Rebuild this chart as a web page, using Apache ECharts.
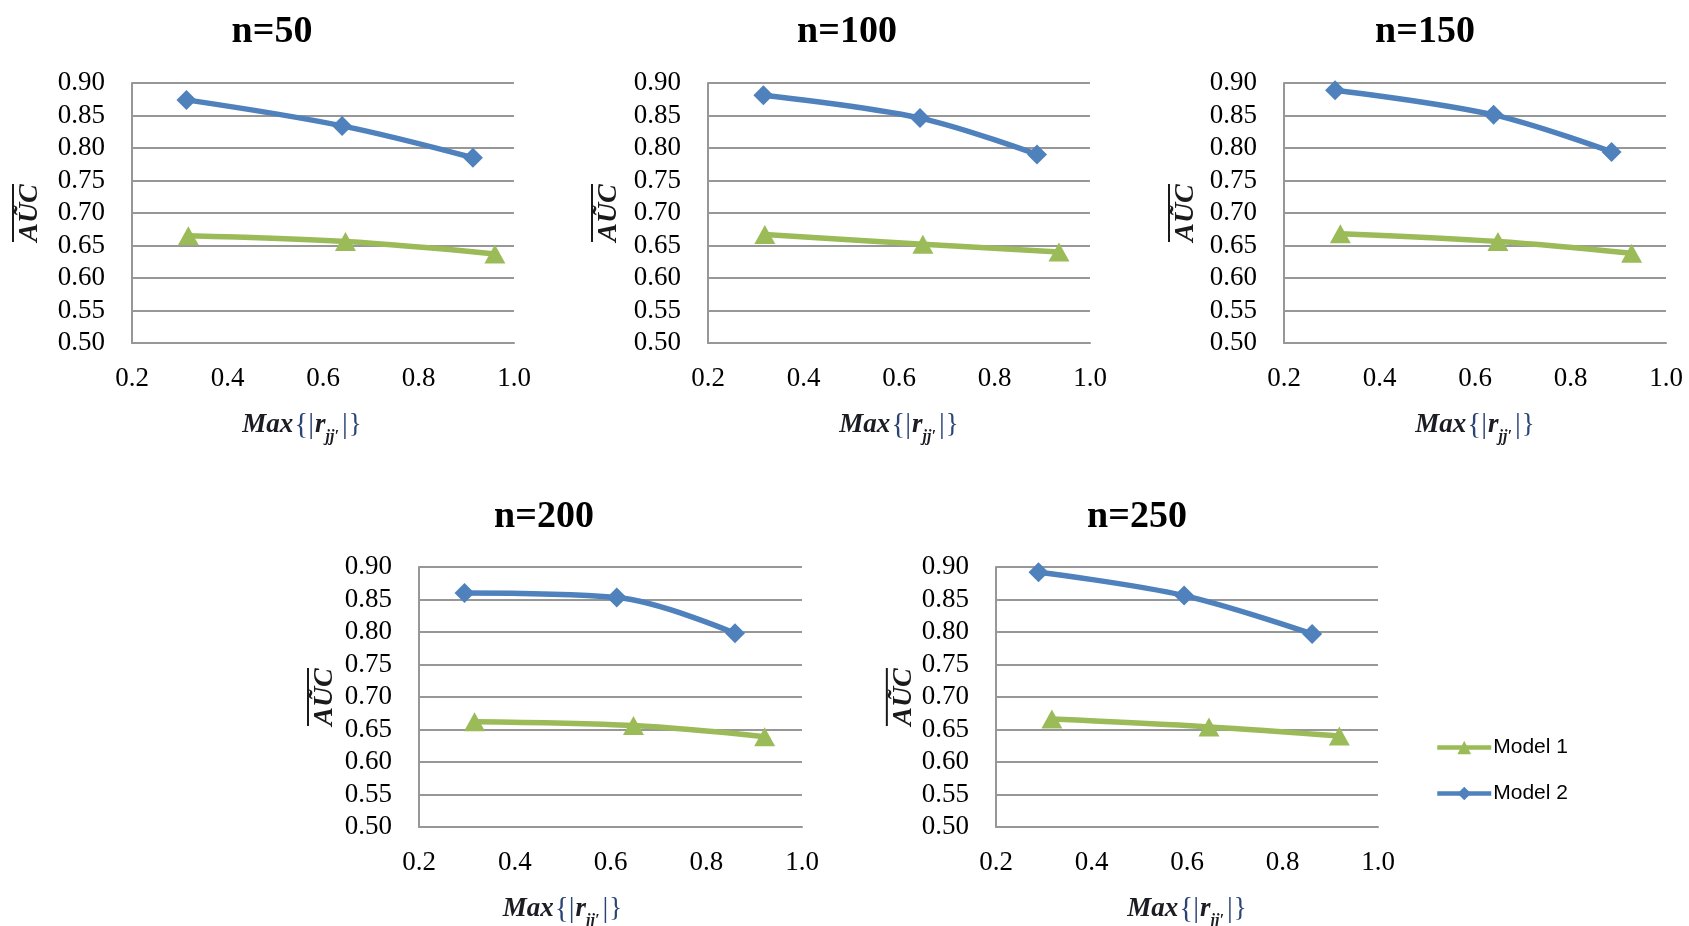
<!DOCTYPE html>
<html>
<head>
<meta charset="utf-8">
<script src="https://cdn.jsdelivr.net/npm/echarts@6/dist/echarts.min.js"></script>
<style>
  html, body { margin: 0; padding: 0; background: #ffffff; }
  #chart { width: 1689px; height: 926px; }
</style>
</head>
<body>
<div id="chart"></div>
<script>
// ---- data ----
const panelTitles = ['n=50', 'n=100', 'n=150', 'n=200', 'n=250'];
const seriesNames = ['Model 1', 'Model 2'];
const xTickValues = [0.2, 0.4, 0.6, 0.8, 1.0];
const yTickValues = [0.50, 0.55, 0.60, 0.65, 0.70, 0.75, 0.80, 0.85, 0.90];

// Model 1: Max{|r_jj'|} and mean AUC, one row per sample size
const model1X = [
  [0.318, 0.647, 0.960],
  [0.319, 0.650, 0.935],
  [0.318, 0.648, 0.928],
  [0.316, 0.648, 0.922],
  [0.317, 0.646, 0.919]
];
const model1Y = [
  [0.665, 0.656, 0.637],
  [0.667, 0.652, 0.640],
  [0.668, 0.656, 0.638],
  [0.662, 0.656, 0.639],
  [0.666, 0.654, 0.640]
];

// Model 2
const model2X = [
  [0.314, 0.640, 0.914],
  [0.316, 0.644, 0.889],
  [0.307, 0.639, 0.886],
  [0.295, 0.613, 0.860],
  [0.289, 0.594, 0.862]
];
const model2Y = [
  [0.874, 0.834, 0.785],
  [0.881, 0.846, 0.790],
  [0.889, 0.851, 0.794],
  [0.860, 0.853, 0.798],
  [0.892, 0.856, 0.797]
];

// ---- layout & style ----
const panels = [
  { left: 132, top: 83,  width: 382, height: 260, titleX: 272,  titleY: 13,  xNameShift: 42, yNameGap: 88 },
  { left: 708, top: 83,  width: 382, height: 260, titleX: 847,  titleY: 13,  xNameShift: 0,  yNameGap: 85 },
  { left: 1284, top: 83, width: 382, height: 260, titleX: 1425, titleY: 13,  xNameShift: 0,  yNameGap: 84 },
  { left: 419, top: 567, width: 383, height: 260, titleX: 544,  titleY: 498, xNameShift: 96, yNameGap: 80 },
  { left: 996, top: 567, width: 382, height: 260, titleX: 1137, titleY: 498, xNameShift: 0,  yNameGap: 77 }
];

const GREEN = '#9BBB59';
const BLUE = '#4F81BD';
const GRID_GRAY = '#979797';
const SERIF = 'Liberation Serif';

const xMin = xTickValues[0];
const xMax = xTickValues[xTickValues.length - 1];
const xStep = xTickValues[1] - xTickValues[0];
const yMin = yTickValues[0];
const yMax = yTickValues[yTickValues.length - 1];
const yStep = yTickValues[1] - yTickValues[0];

const toPoints = (xs, ys) => xs.map((x, k) => [x, ys[k]]);

const titles = [];
const grids = [];
const xAxes = [];
const yAxes = [];
const series = [];

panels.forEach((p, i) => {
  titles.push({
    text: panelTitles[i],
    left: p.titleX,
    top: p.titleY,
    textAlign: 'center',
    padding: 0,
    textStyle: { fontFamily: SERIF, fontWeight: 'bold', fontSize: 38, color: '#000' }
  });

  grids.push({
    left: p.left, top: p.top, width: p.width, height: p.height,
    containLabel: false, outerBoundsMode: 'none'
  });

  xAxes.push({
    type: 'value',
    gridIndex: i,
    min: xMin, max: xMax, interval: xStep,
    axisLine: { show: true, lineStyle: { color: GRID_GRAY, width: 2 } },
    axisTick: { show: false },
    splitLine: { show: false },
    axisLabel: {
      fontFamily: SERIF, fontSize: 27, color: '#000', margin: 22,
      formatter: v => v.toFixed(1)
    },
    name: '{i|Max}{b|{|}{i|r}{s|jj\u2032}{b||}}',
    nameLocation: 'middle',
    nameGap: 62,
    nameTextStyle: {
      fontFamily: SERIF, fontSize: 27, color: '#2a4476',
      padding: [0, p.xNameShift, 0, 0],
      rich: {
        i: { fontFamily: SERIF, fontStyle: 'italic', fontWeight: 'bold', fontSize: 27, color: '#1c1c24' },
        b: { fontFamily: SERIF, fontSize: 29, color: '#2a4476', padding: [0, 1, 0, 1] },
        s: { fontFamily: SERIF, fontStyle: 'italic', fontWeight: 'bold', fontSize: 16, color: '#1c1c24',
             verticalAlign: 'bottom', lineHeight: 40, padding: [0, 2, 0, 0] }
      }
    }
  });

  yAxes.push({
    type: 'value',
    gridIndex: i,
    min: yMin, max: yMax, interval: yStep,
    axisLine: { show: true, lineStyle: { color: GRID_GRAY, width: 2 } },
    axisTick: { show: false },
    splitLine: { show: true, lineStyle: { color: GRID_GRAY, width: 2 } },
    axisLabel: {
      fontFamily: SERIF, fontSize: 27, color: '#000', margin: 27,
      formatter: v => v.toFixed(2)
    },
    name: '{bar| }\n{t|A\u0168C}',
    nameLocation: 'middle',
    nameGap: p.yNameGap,
    nameRotate: 90,
    nameTextStyle: {
      align: 'center',
      rich: {
        bar: { width: 58, height: 2, lineHeight: 6, fontSize: 2, backgroundColor: '#1a1a1a' },
        t: { fontFamily: SERIF, fontStyle: 'italic', fontWeight: 'bold', fontSize: 28, lineHeight: 28, color: '#1a1a1a' }
      }
    }
  });

  series.push({
    name: seriesNames[0],
    type: 'line',
    xAxisIndex: i, yAxisIndex: i,
    data: toPoints(model1X[i], model1Y[i]),
    smooth: 0.35,
    symbol: 'triangle',
    symbolSize: [21, 19],
    lineStyle: { color: GREEN, width: 5.5 },
    itemStyle: { color: GREEN },
    clip: false
  });
  series.push({
    name: seriesNames[1],
    type: 'line',
    xAxisIndex: i, yAxisIndex: i,
    data: toPoints(model2X[i], model2Y[i]),
    smooth: 0.35,
    symbol: 'diamond',
    symbolSize: [20, 20],
    lineStyle: { color: BLUE, width: 5.5 },
    itemStyle: { color: BLUE },
    clip: false
  });
});

const chart = echarts.init(document.getElementById('chart'), null, { renderer: 'canvas' });
chart.setOption({
  backgroundColor: '#ffffff',
  animation: false,
  title: titles,
  grid: grids,
  xAxis: xAxes,
  yAxis: yAxes,
  legend: {
    data: seriesNames,
    orient: 'vertical',
    left: 1435,
    top: 737,
    padding: 0,
    itemWidth: 54,
    itemHeight: 17,
    itemGap: 25,
    lineStyle: { width: 4.5 },
    textStyle: { fontFamily: 'Liberation Sans', fontSize: 21, color: '#000', padding: [0, 0, 0, -3] }
  },
  series: series
});
</script>
</body>
</html>
